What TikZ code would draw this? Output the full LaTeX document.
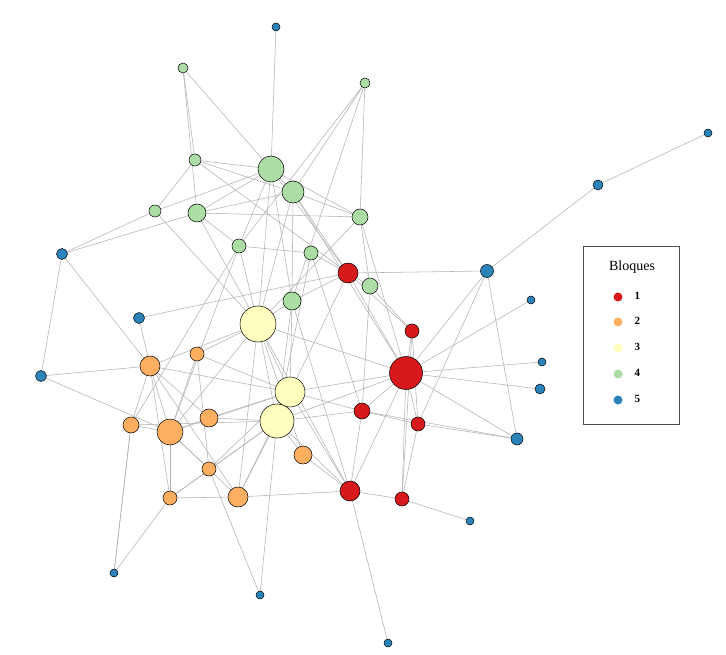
\documentclass[tikz,border=0pt]{standalone}
\usepackage{fontspec}
\setmainfont{Liberation Serif}
\begin{document}
\definecolor{cR}{HTML}{D7191C}\definecolor{cO}{HTML}{FDAE61}\definecolor{cY}{HTML}{FFFFBF}
\definecolor{cG}{HTML}{ABDDA4}\definecolor{cB}{HTML}{2B83BA}
\begin{tikzpicture}[x=1pt,y=-1pt,
 nd/.style={circle,draw=black,line width=0.5pt,inner sep=0pt,minimum size=#1},
 R/.style={nd=#1,fill=cR},O/.style={nd=#1,fill=cO},Y/.style={nd=#1,fill=cY},G/.style={nd=#1,fill=cG},B/.style={nd=#1,fill=cB},
 ed/.style={draw=black!30,line width=0.55pt},
 lg/.style={circle,inner sep=0pt,minimum size=9pt}]
\useasboundingbox (0,0) rectangle (726,655);
\foreach \n/\x/\y/\s/\d in {b1/276/27/B/8,b2/708/133/B/8,b3/598/185/B/10,b4/62/254/B/11,b5/487/271/B/13,b6/531/300/B/8,b7/139/318/B/11,b8/41/376/B/11,b9/542/362/B/8,b10/540/389/B/10,b11/517/439/B/12,b12/470/521/B/8,b13/114/573/B/8,b14/260/595/B/8,b15/388/643/B/8,
g1/183/68/G/10,g2/365/83/G/10,g3/195/160/G/12,g4/271/169/G/26,g5/293/192/G/22,g6/155/211/G/12,g7/197/213/G/18,g8/360/217/G/16,g9/239/246/G/14,g10/311/253/G/14,g11/370/286/G/16,g12/292/301/G/18,
r1/348/273/R/20,r2/412/331/R/14,r3/406/373/R/33,r4/362/411/R/16,r5/418/424/R/14,r6/350/491/R/20,r7/402/499/R/14,
y1/258/324/Y/36,y2/290/392/Y/30,y3/277/421/Y/34,
o1/150/366/O/20,o2/197/354/O/14,o3/209/418/O/18,o4/131/425/O/16,o5/170/432/O/26,o6/303/455/O/18,o7/209/469/O/14,o8/170/498/O/14,o9/238/497/O/20}
 {\coordinate (\n) at (\x,\y);}
\foreach \a/\b in {b1/g4,g1/g3,g1/g7,g1/g4,g2/g5,g2/g8,g2/g9,b2/b3,b3/b5,g4/g3,g4/g7,g4/g6,g4/y1,g4/g12,g4/r1,g4/g8,g4/g9,g5/g7,g5/g8,g5/y1,g5/r3,g5/r1,g5/g12,g5/g3,g6/b4,g6/y1,g7/b4,g7/g8,g7/y1,g9/g10,g9/y1,g9/o4,g10/r1,g8/g11,g8/r3,g8/y1,b4/b8,b4/o1,b7/o1,b7/r1,b8/o1,b8/o5,o1/o5,o1/o3,o1/y1,o1/o4,o1/o8,o1/y2,o2/y1,o2/o7,o2/y2,o3/y3,o3/o5,o4/y3,o5/y2,o5/o8,o5/o7,o5/o9,o5/y1,o4/b13,o7/b14,o8/y3,o9/r6,o9/y3,o9/y1,y1/y2,y1/y3,y1/r3,y1/o6,y1/r6,y1/g12,y2/r3,y2/r4,y2/o3,y3/o6,y3/r4,y3/r6,y3/o8,r1/r3,r1/r2,r1/b5,r1/g12,r1/g11,r1/y2,r3/b5,r3/b9,r3/b10,r3/b6,r3/r5,r3/r2,r3/r7,r3/r6,r3/r4,r3/b11,r3/y3,r4/r6,r4/r5,r4/b11,r5/b11,r5/r7,r6/r7,r6/b15,r6/y2,r6/g12,r7/b12,b5/b11,b5/r5,g12/y3,g11/r2,g11/r4,g3/g6,g3/r1,g2/g12,o6/r6,o7/y2,o9/y2,o8/o9,o4/o5,o1/o9,g12/y2,r2/r5,r2/r7,g10/y3,g9/o5,g10/r4,o4/b13,o8/b13,y3/b14,o2/o5,g4/g5,g7/g9}
 {\draw[ed] (\a) -- (\b);}
\foreach \n/\x/\y/\s/\d in {b1/276/27/B/8,b2/708/133/B/8,b3/598/185/B/10,b4/62/254/B/11,b5/487/271/B/13,b6/531/300/B/8,b7/139/318/B/11,b8/41/376/B/11,b9/542/362/B/8,b10/540/389/B/10,b11/517/439/B/12,b12/470/521/B/8,b13/114/573/B/8,b14/260/595/B/8,b15/388/643/B/8,
g1/183/68/G/10,g2/365/83/G/10,g3/195/160/G/12,g4/271/169/G/26,g5/293/192/G/22,g6/155/211/G/12,g7/197/213/G/18,g8/360/217/G/16,g9/239/246/G/14,g10/311/253/G/14,g11/370/286/G/16,g12/292/301/G/18,
r1/348/273/R/20,r2/412/331/R/14,r3/406/373/R/33,r4/362/411/R/16,r5/418/424/R/14,r6/350/491/R/20,r7/402/499/R/14,
y1/258/324/Y/36,y2/290/392/Y/30,y3/277/421/Y/34,
o1/150/366/O/20,o2/197/354/O/14,o3/209/418/O/18,o4/131/425/O/16,o5/170/432/O/26,o6/303/455/O/18,o7/209/469/O/14,o8/170/498/O/14,o9/238/497/O/20}
 {\node[\s=\d pt] (n\n) at (\x,\y) {};}
\node[draw=black!70,line width=0.8pt,minimum width=96pt,minimum height=178pt,inner sep=0pt] (legend) at (631,335) {};
\node (lt) at (632,267) {\fontsize{14}{16}\selectfont Bloques};
\foreach \i/\c/\y in {1/cR/297,2/cO/322,3/cY/348,4/cG/374,5/cB/400}{
 \node[lg,fill=\c] (ld\i) at (618,\y) {};
 \node[anchor=west,font=\fontsize{11}{12}\selectfont\bfseries] (ll\i) at (631,\y-1) {\i};}
\end{tikzpicture}
\end{document}
